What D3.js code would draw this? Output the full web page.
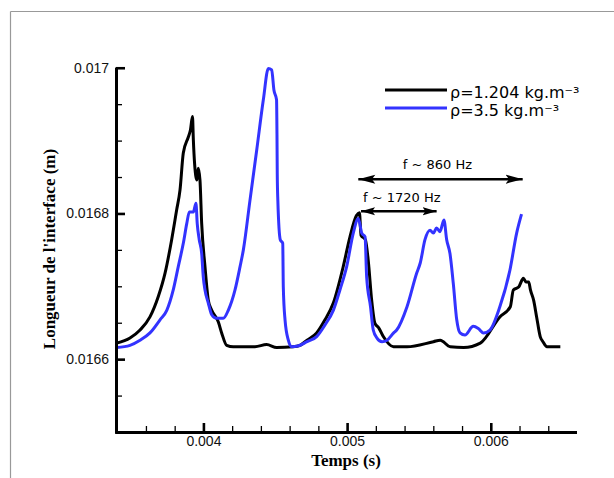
<!DOCTYPE html>
<html>
<head>
<meta charset="utf-8">
<script src="https://cdn.jsdelivr.net/npm/d3@7"></script>
<style>
  html, body { margin: 0; padding: 0; background: #fff; }
  svg { display: block; }
</style>
</head>
<body>
<svg id="chart" width="614" height="478"></svg>
<script>
// ---- Data (time in s, length in m) ----
const blackT = [0.003397,0.003489,0.003559,0.003628,0.003686,0.003733,0.003779,0.003814,0.003837,0.003860,0.003895,0.003910,0.003924,0.003930,0.003948,0.003955,0.003964,0.003976,0.003988,0.004011,0.004034,0.004058,0.004104,0.004127,0.004162,0.004208,
  0.004359,0.004440,0.004510,0.004623,0.004672,0.004721,0.004788,0.004846,0.004904,0.004973,0.005020,0.005065,0.005086,0.005097,0.005127,0.005147,0.005171,0.005194,0.005220,0.005252,0.005323,0.005417,0.005601,0.005648,0.005718,0.005811,0.005927,0.006063,0.006136,0.006157,0.006194,0.006227,0.006245,0.006264,0.006276,0.006298,0.006319,0.006344,0.006363,0.006391,0.006484];
const blackL = [0.016622,0.016629,0.016640,0.016658,0.016686,0.016718,0.016764,0.016805,0.016832,0.016883,0.016905,0.016915,0.016933,0.016901,0.016850,0.016846,0.016862,0.016846,0.016786,0.016727,0.016681,0.016667,0.016651,0.016636,0.016619,0.016617,
  0.016617,0.016620,0.016616,0.016617,0.016619,0.016626,0.016636,0.016654,0.016677,0.016727,0.016768,0.016797,0.016801,0.016770,0.016764,0.016736,0.016681,0.016649,0.016643,0.016631,0.016617,0.016617,0.016624,0.016626,0.016617,0.016616,0.016622,0.016658,0.016672,0.016695,0.016699,0.016711,0.016706,0.016706,0.016695,0.016681,0.016658,0.016631,0.016624,0.016617,0.016617];

const blueT = [0.003397,0.003489,0.003559,0.003628,0.003698,0.003745,0.003790,0.003825,0.003860,0.003884,0.003902,0.003930,0.003948,0.003957,0.003971,0.003988,0.003999,0.004011,0.004034,0.004058,0.004092,0.004138,0.004173,0.004220,0.004255,0.004278,0.004324,0.004371,0.004417,0.004452,0.004475,0.004491,0.004509,0.004512,0.004514,0.004518,0.004535,0.004552,0.004556,0.004568,0.004591,0.004614,0.004658,
  0.004721,0.004788,0.004846,0.004904,0.004950,0.004997,0.005043,0.005078,0.005102,0.005125,0.005136,0.005163,0.005182,0.005208,0.005243,0.005278,0.005324,0.005345,0.005417,0.005484,0.005509,0.005542,0.005577,0.005600,0.005623,0.005646,0.005674,0.005693,0.005716,0.005739,0.005763,0.005786,0.005820,0.005878,0.005913,0.005948,0.005994,0.006063,0.006133,0.006180,0.006214];
const blueL = [0.016616,0.016619,0.016626,0.016636,0.016654,0.016667,0.016695,0.016727,0.016759,0.016786,0.016802,0.016802,0.016814,0.016786,0.016764,0.016745,0.016713,0.016695,0.016677,0.016661,0.016656,0.016656,0.016667,0.016695,0.016727,0.016750,0.016818,0.016887,0.016956,0.016999,0.016997,0.016969,0.016956,0.016908,0.016853,0.016818,0.016764,0.016759,0.016699,0.016654,0.016626,0.016617,0.016618,
  0.016624,0.016631,0.016647,0.016667,0.016695,0.016727,0.016773,0.016793,0.016773,0.016768,0.016713,0.016672,0.016640,0.016629,0.016624,0.016626,0.016636,0.016640,0.016672,0.016718,0.016732,0.016764,0.016777,0.016773,0.016780,0.016775,0.016791,0.016764,0.016745,0.016704,0.016654,0.016636,0.016633,0.016645,0.016642,0.016636,0.016640,0.016672,0.016722,0.016773,0.016799];

const xMajorTicks = [0.004, 0.005, 0.006];
const xTickLabels = ["0.004", "0.005", "0.006"];
const xMinorTicks = [0.0036,0.0038,0.0042,0.0044,0.0046,0.0048,0.0052,0.0054,0.0056,0.0058,0.0062,0.0064];
const yMajorTicks = [0.0166, 0.0168, 0.017];
const yTickLabels = ["0.0166", "0.0168", "0.017"];
const yMinorTicks = [0.01655,0.01665,0.0167,0.01675,0.01685,0.0169,0.01695];

const seriesNames = ["\u03c1=1.204 kg.m\u207b\u00b3", "\u03c1=3.5 kg.m\u207b\u00b3"];
const seriesColors = ["#000000", "#3333ff"];

// annotation arrows [t0, t1, L], label
const arrowSpans = [[0.005078, 0.006222, 0.016847], [0.005097, 0.005623, 0.016803]];
const arrowLabels = ["f ~ 860 Hz", "f ~ 1720 Hz"];

// ---- Drawing ----
const svg = d3.select("#chart");
const x = d3.scaleLinear().domain([0.0034, 0.0066]).range([117.2, 577.0]);
const y = d3.scaleLinear().domain([0.0165, 0.017]).range([432, 67.75]);

// frame (only top and left visible)
svg.append("line").attr("x1", 10.5).attr("y1", 11.5).attr("x2", 614).attr("y2", 11.5)
  .attr("stroke", "#999").attr("stroke-width", 1.2);
svg.append("line").attr("x1", 10.5).attr("y1", 11.5).attr("x2", 10.5).attr("y2", 478)
  .attr("stroke", "#999").attr("stroke-width", 1.2);

const line = d3.line().curve(d3.curveMonotoneX).x(d => x(d[0])).y(d => y(d[1]));
const blackData = blackT.map((t, i) => [t, blackL[i]]);
const blueData = blueT.map((t, i) => [t, blueL[i]]);

const plot = svg.append("g");
plot.append("path").datum(blackData).attr("d", line).attr("fill", "none")
  .attr("stroke", seriesColors[0]).attr("stroke-width", 3).attr("stroke-linejoin", "round");
plot.append("path").datum(blueData).attr("d", line).attr("fill", "none")
  .attr("stroke", seriesColors[1]).attr("stroke-width", 3).attr("stroke-linejoin", "round");

// axes
const tickFont = "'Liberation Sans', Arial, sans-serif";
const xAxisMinor = d3.axisBottom(x).tickValues(xMinorTicks).tickSize(-6).tickFormat("");
const xAxisMajor = d3.axisBottom(x).tickValues(xMajorTicks).tickSize(-9).tickPadding(4)
  .tickFormat((d, i) => xTickLabels[i]);
const yAxisMinor = d3.axisLeft(y).tickValues(yMinorTicks).tickSize(-6).tickFormat("");
const yAxisMajor = d3.axisLeft(y).tickValues(yMajorTicks).tickSize(-9).tickPadding(7)
  .tickFormat((d, i) => yTickLabels[i]);

function styleAxis(g, tickW) {
  g.select(".domain").attr("stroke", "#000").attr("stroke-width", 3);
  g.selectAll(".tick line").attr("stroke", "#000").attr("stroke-width", tickW);
  g.selectAll(".tick text").attr("fill", "#111").style("font-family", tickFont).style("font-size", "14px");
}
const gxm = svg.append("g").attr("transform", "translate(0,432)").call(xAxisMinor);
styleAxis(gxm, 1.3);
const gx = svg.append("g").attr("transform", "translate(0,432)").call(xAxisMajor);
styleAxis(gx, 2.6);
const gym = svg.append("g").attr("transform", "translate(116,0)").call(yAxisMinor);
styleAxis(gym, 1.3);
const gy = svg.append("g").attr("transform", "translate(116,0)").call(yAxisMajor);
styleAxis(gy, 2.6);
[gxm, gx, gym, gy].forEach(g => g.attr("font-size", null).attr("font-family", null));
gx.select(".domain").attr("d", `M${x(0.0034) - 1.5},0.5H${x(0.0066)}`);
gxm.select(".domain").attr("d", `M${x(0.0034) - 1.5},0.5H${x(0.0066)}`);
gy.select(".domain").attr("d", `M0.5,${y(0.0165) + 1.5}V${y(0.017)}`);
gym.select(".domain").attr("d", `M0.5,${y(0.0165) + 1.5}V${y(0.017)}`);

// axis titles
svg.append("text").attr("x", 346).attr("y", 466).attr("text-anchor", "middle")
  .style("font-family", "'Liberation Serif', 'Times New Roman', serif").style("font-weight", "bold")
  .style("font-size", "17px").text("Temps (s)");
svg.append("text").attr("transform", "translate(55,249) rotate(-90)").attr("text-anchor", "middle")
  .style("font-family", "'Liberation Serif', 'Times New Roman', serif").style("font-weight", "bold")
  .style("font-size", "17px").text("Longueur de l'interface (m)");

// legend
const legend = svg.append("g");
seriesNames.forEach((name, i) => {
  const ly = 90 + i * 18;
  legend.append("line").attr("x1", 385).attr("x2", 447).attr("y1", ly).attr("y2", ly)
    .attr("stroke", seriesColors[i]).attr("stroke-width", 3);
  legend.append("text").attr("x", 450).attr("y", ly + 3).attr("dy", "0.3em")
    .style("font-family", "'DejaVu Sans', sans-serif").style("font-size", "16px")
    .attr("fill", "#000").text(name);
});

// arrows
const defs = svg.append("defs");
function addMarker(id, len, half, start) {
  const m = defs.append("marker").attr("id", id).attr("markerUnits", "userSpaceOnUse")
    .attr("markerWidth", len + 2).attr("markerHeight", half * 2 + 2)
    .attr("viewBox", `0 ${-half - 1} ${len + 2} ${half * 2 + 2}`)
    .attr("refX", start ? 0 : len).attr("refY", 0).attr("orient", "auto");
  if (start) m.append("path").attr("d", `M0,0L${len},${-half}L${len * 0.8},0L${len},${half}Z`).attr("fill", "#000");
  else m.append("path").attr("d", `M${len},0L0,${-half}L${len * 0.2},0L0,${half}Z`).attr("fill", "#000");
}
addMarker("s0", 17, 4.5, true); addMarker("e0", 17, 4.5, false);
addMarker("s1", 14, 4, true); addMarker("e1", 14, 4, false);

arrowSpans.forEach((a, i) => {
  svg.append("line").attr("x1", x(a[0])).attr("x2", x(a[1])).attr("y1", y(a[2])).attr("y2", y(a[2]))
    .attr("stroke", "#000").attr("stroke-width", 2.5)
    .attr("marker-start", `url(#s${i})`).attr("marker-end", `url(#e${i})`);
});
svg.append("text").attr("x", (x(arrowSpans[0][0]) + x(arrowSpans[0][1])) / 2 - 3).attr("y", y(arrowSpans[0][2]) - 10)
  .attr("text-anchor", "middle").style("font-family", "'DejaVu Sans', sans-serif").style("font-size", "13px")
  .text(arrowLabels[0]);
svg.append("text").attr("x", x(arrowSpans[1][0]) + 2).attr("y", y(arrowSpans[1][2]) - 9.5)
  .attr("text-anchor", "start").style("font-family", "'DejaVu Sans', sans-serif").style("font-size", "13px")
  .text(arrowLabels[1]);
</script>
</body>
</html>
